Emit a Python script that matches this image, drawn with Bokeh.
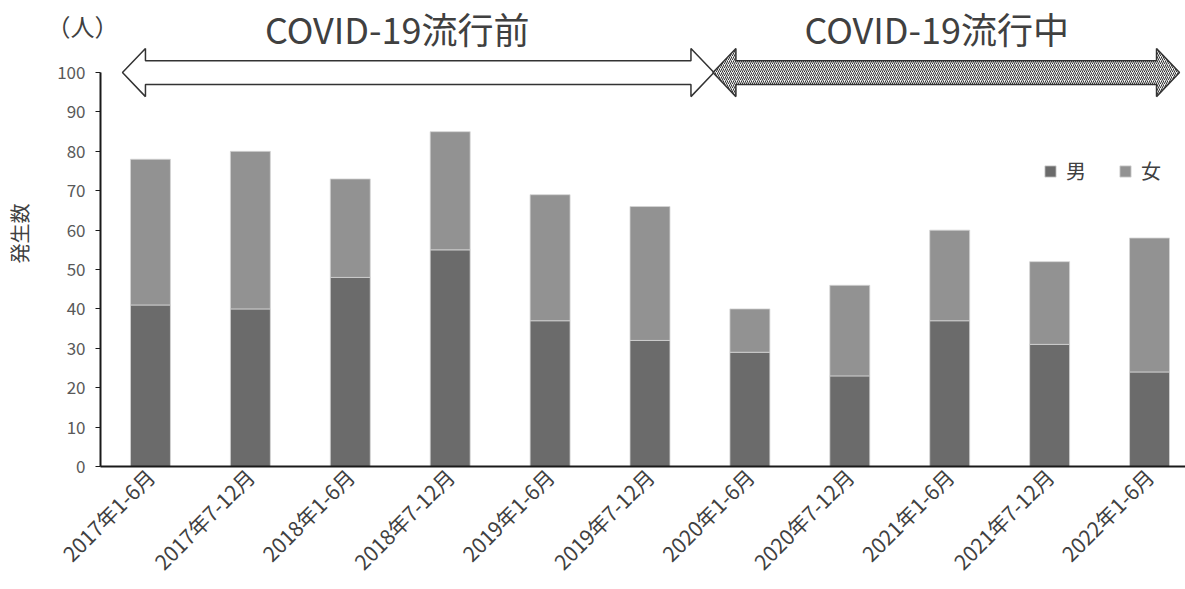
import math
from bokeh.plotting import figure
from bokeh.models import (Range1d, Legend, LegendItem, FixedTicker, LinearAxis,
                          ColumnDataSource)
from bokeh.core.properties import value
from bokeh.embed import file_html
from bokeh.resources import INLINE

# Half-year periods and case counts by sex
periods = ["2017年1-6月", "2017年7-12月", "2018年1-6月", "2018年7-12月",
           "2019年1-6月", "2019年7-12月", "2020年1-6月", "2020年7-12月",
           "2021年1-6月", "2021年7-12月", "2022年1-6月"]
male = [41, 40, 48, 55, 37, 32, 29, 23, 37, 31, 24]
female = [37, 40, 25, 30, 32, 34, 11, 23, 23, 21, 34]
y_ticks = [0, 10, 20, 30, 40, 50, 60, 70, 80, 90, 100]

# Period groupings shown as arrows above the bars (index ranges)
phase_labels = ["COVID-19流行前", "COVID-19流行中"]
phase_index = [(0, 5), (6, 10)]

FONT = "Noto Sans CJK JP"
MALE_C = "#6b6b6b"
FEMALE_C = "#929292"
TEXT_C = "#404040"

src = ColumnDataSource(dict(x=list(range(len(periods))), male=male, female=female))

p = figure(width=1185, height=589, output_backend="svg", toolbar_location=None,
           x_range=Range1d(-0.5, 10.36), y_range=Range1d(0, 118.3),
           min_border_left=100, min_border_right=0, min_border_top=0,
           min_border_bottom=123, outline_line_color=None)
p.xgrid.visible = False
p.ygrid.visible = False

bars = p.vbar_stack(["male", "female"], x="x", width=0.4, source=src,
                    color=[MALE_C, FEMALE_C], line_color="#d4d4d4", line_width=0.8)

# X axis: period names, rotated
xa = p.xaxis[0]
xa.ticker = FixedTicker(ticks=list(range(len(periods))))
xa.major_label_overrides = {i: s for i, s in enumerate(periods)}
xa.major_label_orientation = math.pi / 4
xa.major_tick_out = 0
xa.major_tick_in = 0
xa.minor_tick_line_color = None
xa.axis_line_color = "#1a1a1a"
xa.axis_line_width = 2
xa.major_label_text_font = FONT
xa.major_label_text_font_size = "21px"
xa.major_label_text_line_height = 0.8
xa.major_label_text_color = TEXT_C
xa.major_label_standoff = 6

# Y axis
ya = p.yaxis[0]
ya.ticker = FixedTicker(ticks=y_ticks)
ya.bounds = (0, 100)
ya.major_tick_out = 5
ya.major_tick_in = 0
ya.major_tick_line_color = "#1a1a1a"
ya.minor_tick_line_color = None
ya.axis_line_color = "#1a1a1a"
ya.axis_line_width = 2
ya.major_label_text_font = FONT
ya.major_label_text_font_size = "17px"
ya.major_label_text_color = "#595959"
ya.major_label_standoff = 10
ya.axis_label = "発生数"
ya.axis_label_text_font = FONT
ya.axis_label_text_font_size = "20px"
ya.axis_label_text_font_style = "normal"
ya.axis_label_text_color = TEXT_C
ya.axis_label_standoff = 20

# Unit caption "（人）" above the y axis, drawn as a lone tick label
unit_axis = LinearAxis(ticker=FixedTicker(ticks=[112]),
                       major_label_overrides={112: "（人）"},
                       axis_line_color=None, major_tick_line_color=None,
                       major_tick_out=0, major_tick_in=0,
                       minor_tick_line_color=None,
                       major_label_standoff=-116,
                       major_label_text_font=FONT,
                       major_label_text_font_size="24px",
                       major_label_text_color=TEXT_C)
p.add_layout(unit_axis, "left")


def double_arrow(x0, x1, yc, shaft, head, head_len):
    xs = [x0, x0 + head_len, x0 + head_len, x1 - head_len, x1 - head_len, x1,
          x1 - head_len, x1 - head_len, x0 + head_len, x0 + head_len]
    ys = [yc, yc + head, yc + shaft, yc + shaft, yc + head, yc,
          yc - head, yc - shaft, yc - shaft, yc - head]
    return xs, ys


arrow_y = 100
(a0, a1), (b0, b1) = phase_index
xs1, ys1 = double_arrow(a0 - 0.28, a1 + 0.64, arrow_y, 3.0, 6.1, 0.23)
xs2, ys2 = double_arrow(b0 - 0.37, b1 + 0.30, arrow_y, 3.0, 6.1, 0.23)
p.patch(xs1, ys1, fill_color="white", line_color="#333333", line_width=1.5)
p.patch(xs2, ys2, fill_color="#f2f2f2", hatch_pattern="/", hatch_color="#333333",
        hatch_scale=4, hatch_weight=1, line_color="#333333", line_width=1.5)

p.text(x=[2.47, 7.87], y=[111.2, 111.2], text=phase_labels,
       text_font=value(FONT), text_font_size="36px", text_color=TEXT_C,
       text_align="center", text_baseline="middle")

legend = Legend(items=[LegendItem(label="男", renderers=[bars[0]]),
                       LegendItem(label="女", renderers=[bars[1]])],
                orientation="horizontal", location=(943, 281),
                glyph_width=14, glyph_height=14, label_standoff=9, spacing=32,
                padding=0, margin=0, border_line_color=None,
                background_fill_alpha=0, label_text_font=FONT,
                label_text_font_size="20px", label_text_color=TEXT_C)
p.add_layout(legend)

open("out.html", "w").write(file_html(p, INLINE))
